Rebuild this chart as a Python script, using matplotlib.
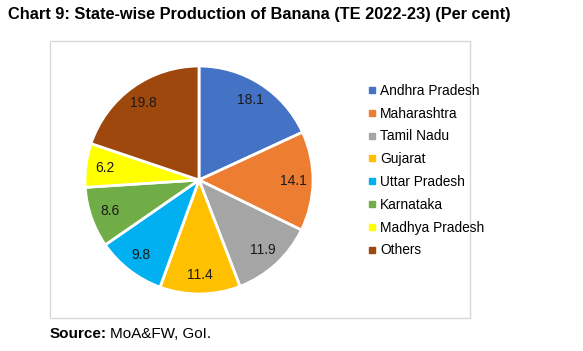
import matplotlib.pyplot as plt
import numpy as np
from matplotlib.patches import Rectangle
from matplotlib.lines import Line2D

plt.rcParams['font.family'] = ['Liberation Sans', 'DejaVu Sans']

states = ["Andhra Pradesh", "Maharashtra", "Tamil Nadu", "Gujarat",
          "Uttar Pradesh", "Karnataka", "Madhya Pradesh", "Others"]
shares = [18.1, 14.1, 11.9, 11.4, 9.8, 8.6, 6.2, 19.8]
colors = ["#4472C4", "#ED7D31", "#A5A5A5", "#FFC000",
          "#00B0F0", "#70AD47", "#FFFF00", "#9E480E"]

W, H = 583, 351
fig = plt.figure(figsize=(W / 100, H / 100), dpi=100)

# chart border
fig.patches.append(Rectangle((50 / W, 1 - 318 / H), 420 / W, 277 / H,
                             transform=fig.transFigure, fill=False,
                             edgecolor="#D9D9D9", lw=1))

# pie axes: center (199,180) px, radius 114 px
r = 114
ax = fig.add_axes([(199 - r) / W, 1 - (180 + r) / H, 2 * r / W, 2 * r / H])
wedges, _ = ax.pie(shares, colors=colors, startangle=90, counterclock=False,
                   wedgeprops=dict(edgecolor="white", linewidth=2))
ax.set_xlim(-1, 1)
ax.set_ylim(-1, 1)
ax.set_aspect("equal")

for w, v in zip(wedges, shares):
    ang = np.deg2rad((w.theta1 + w.theta2) / 2)
    ax.text(0.83 * np.cos(ang), 0.83 * np.sin(ang), f"{v:.1f}",
            ha="center", va="center", fontsize=10, color="#1a1a1a")

handles = [Line2D([], [], marker="s", linestyle="none", markersize=4,
                  markerfacecolor=c, markeredgecolor=c) for c in colors]
fig.legend(handles, states, loc="upper left",
           bbox_to_anchor=(361 / W, 1 - 77 / H), frameon=False,
           fontsize=9.9, handlelength=0.6, handletextpad=0.3,
           labelspacing=0.64, borderpad=0)

fig.text(259 / W, 1 - 14 / H,
         "Chart 9: State-wise Production of Banana (TE 2022-23) (Per cent)",
         ha="center", va="center", fontsize=11.8, fontweight="bold")
fig.text(50 / W, 1 - 334 / H, "Source:", ha="left", va="center",
         fontsize=11, fontweight="bold")
fig.text(110 / W, 1 - 334 / H, "MoA&FW, GoI.", ha="left", va="center",
         fontsize=11)

fig.savefig("out.png", dpi=100)
